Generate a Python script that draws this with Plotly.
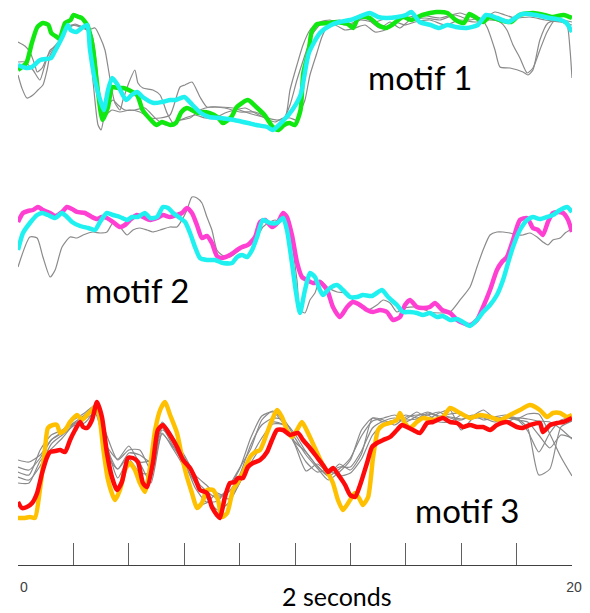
import plotly.graph_objects as go

# ---------------- data (time in samples, 100 Hz -> 200 samples = 2 s) ----------------
# motif 1
m1_green_t = [0,3,5,7,9,11,12,14,15,17,19,20,22,23,25,27,28.5,30.5,32.5,34,36,38,40,43,45,48,50,52,55,57,
              59,61,65,67,69,72,74,77,79,83,86,89,92,94,96,98,100,102,103,105,106,108,112,115,119,121,123,127,130,133,
              135,139,142,146,151,155,158,161,163,165,168,170,174,178,181,186,190,193,197,200]
m1_green_v = [70,77,97,113,117,115,107,103,101,117,120,125,123,122,115,93,57,20,33,53,52,52,50,45,30,20,15,18,15,17,
              28,32,27,28,27,23,17,23,33,40,33,25,13,10,15,17,15,30,67,90,108,116,117,118,116,112,123,122,115,112,
              115,123,120,125,128,127,120,117,126,123,118,123,120,118,125,127,125,123,125,122]
m1_cyan_t = [0,3,5,8,12,13,16,18,19,21,23,25,26,28,30,31,32.5,34,36,39,41,43,45,49,52,55,57,60,63,66,
             69,73,78,83,86,90,92,96,99,102,105,109,113,116,120,123,127,130,133,137,140,142,145,149,152,155,158,162,166,169,
             173,177,180,182,187,192,196,198,200]
m1_cyan_v = [75,72,73,80,82,87,103,115,110,108,112,115,90,57,37,30,50,62,55,40,45,48,43,37,38,40,40,43,35,27,
             23,22,20,17,15,13,10,20,30,45,87,107,115,118,120,123,127,123,122,123,125,128,118,115,112,115,113,112,115,125,
             122,118,123,126,125,122,120,117,108]
m1_gray_a_t = [0,2.5,4.3,6.1,6.9,8.7,10.5,12.6,15.2,17,19.5,22.4,25.3,27.8,29.6,31.4,32.5,33.9,35,36.8,
               37.9,40.4,42.2,43.3,45.1,48.7,51.3,53.8,56,58.5,62.1,65.7,69.3,72.9,77.6,82,85.6,89.9,93.5,96.4,
               98.2,100.7,102.9,105.4,109,112.6,118.1,121.7,125.3,130.7,134.3,137.9,141.5,146.9,152.3,157.8,163.2,166.8,169.3,172.2,
               174,177.6,182.3,184.1,185.9,188.4,191.3,195.7,200]
m1_gray_a_v = [98,94,88,75,68,72,83,92,100,113,115,113,110,112,103,90,73,50,37,30,
               40,60,70,57,52,50,45,27,17,20,22,30,33,33,32,28,25,22,20,22,
               50,75,95,110,118,120,115,118,122,112,118,112,120,122,120,125,120,122,113,90,
               73,72,68,65,70,100,117,120,118]
m1_gray_b_t = [0,1.4,3.2,5.4,7.2,9,10.5,11.6,13.4,15.9,17.7,20.6,23.1,24.9,26,27.4,28.9,30,31,32.5,
               34.3,36.1,38.6,42.2,45.8,49.5,53.1,56.7,60.3,63.9,67.5,71.1,74.7,78.3,82,85.6,89.2,92.8,95.7,98.2,
               100.4,101.8,103.6,105.4,107.9,109.7,111.6,114.4,118.1,121.7,125.3,128.9,132.5,136.1,139.7,143.3,148.7,154.2,159.6,165,
               170.4,174,176.5,178.7,181.2,183.8,185.9,188.4,191,193.9,196.4,198.2,199.3,200]
m1_gray_b_v = [65,52,42,45,50,55,70,85,93,103,112,116,113,110,90,50,15,10,22,35,
               40,35,30,30,32,22,15,18,22,25,22,22,27,30,32,27,22,18,22,22,
               20,28,40,65,87,103,113,115,110,112,115,108,110,118,115,118,120,115,120,118,
               120,118,110,95,82,67,72,90,108,120,118,115,90,62]
m1_gray_c_t = [0,2.5,5.4,7.9,9.7,11.6,14.4,17,20.6,24.2,26.7,28.5,29.6,31.4,33.9,36.8,40.4,44,47.7,51.3,
               54.9,58.5,60.3,62.8,65.7,68.2,71.1,74.7,80.1,85.6,89.2,92.8,95.7,98.2,100.7,103.6,106.1,109,112.6,116.2,
               119.9,123.5,128.9,134.3,139.7,145.1,152.3,159.6,166.8,172.2,175.8,179.4,184.8,190.3,195.7,200]
m1_gray_c_v = [78,78,70,60,75,90,95,110,115,112,105,70,40,25,30,28,30,28,22,22,
               25,53,55,58,43,33,33,32,28,28,23,13,20,35,60,85,105,115,118,120,
               115,120,118,123,122,125,122,127,120,128,125,122,123,120,118,115]

# motif 2
m2_magenta_t = [0,1.8,3.6,5.4,7.2,9,11.6,13.4,15.9,17.7,19.5,21.3,24.2,26.7,28.5,30.3,32.1,34.3,36.8,38.6,
                40.4,42.9,45.1,47.7,50.2,52.3,54.9,57.4,59.2,61,62.8,64.6,66.4,68.2,70,71.8,73.6,76.5,79.1,80.9,
                83,85.6,87.4,89.2,91.7,93.9,95.7,97.1,98.9,100.7,102.5,104.3,106.5,109,111.6,113.7,116.2,118.8,120.9,123.5,
                126,128.2,130.7,133.2,135.4,137.9,139.7,141.5,144,146.2,148.7,150.5,153.1,156,158.5,160.6,163.2,165.7,167.9,170.4,
                172.9,174.7,176.5,178.7,181.2,183.8,185.9,187.7,189.5,191.3,193.1,194.9,196.8,198.6,200]
m2_magenta_v = [113,122,124,125,128,125,122,119,123,128,126,123,122,118,116,118,117,113,108,110,
                115,120,118,115,117,120,118,120,122,127,122,110,97,99,92,79,77,80,85,88,
                90,98,113,115,108,113,122,118,100,73,58,55,52,53,45,28,18,28,33,30,
                25,23,25,23,15,18,30,35,28,27,28,32,25,22,15,12,10,15,28,45,
                65,73,78,95,115,117,107,105,100,113,122,123,122,115,103]
m2_cyan_t = [0,1.8,4.3,6.9,8.7,10.8,13.4,15.9,17.7,19.5,22.4,25.3,27.8,29.6,32.1,34.3,36.8,39.4,41.2,43.3,
             45.8,47.7,50.2,52.3,54.2,56,58.5,60.3,62.1,63.9,65.7,68.2,71.1,74,77.3,79.1,80.9,82.7,84.5,86.3,
             88.4,91,93.5,95.7,97.1,98.9,100.4,101.8,103.6,105.4,107.2,109,110.1,112.6,115.2,117.3,119.9,122.4,124.5,127.8,
             131.4,133.6,136.8,139,141.5,144,146.2,148.7,151.3,153.4,156,158.5,160.6,163.2,165.7,167.9,170.4,172.9,175.1,176.9,
             178.7,181.2,183.8,185.9,188.4,191,193.1,195.7,198.2,200]
m2_cyan_v = [85,102,112,120,122,120,117,122,118,113,109,107,105,113,122,120,118,115,118,118,
             122,117,118,128,127,122,117,113,102,88,77,75,75,72,72,78,80,78,85,98,
             115,112,112,117,105,72,42,22,45,62,58,45,40,47,50,45,38,38,40,39,
             45,38,30,23,23,22,20,22,18,19,15,16,13,9,15,23,30,40,55,72,
             88,105,115,118,116,118,120,125,128,123]
m2_gray_t = [0,4.3,6.9,9,11.6,13.4,15.9,18.8,21.3,23.5,27.1,29.6,32.1,34.3,36.8,39.4,41.5,44,46.6,48.7,
             51.3,54.9,57.4,59.2,61,62.8,64.6,66.4,68.2,70,71.8,73.6,76.5,79.1,81.2,83.8,86.3,88.4,91,92.8,
             94.6,96.4,98.2,100.7,101.8,103.6,105.4,107.2,109,111.6,115.2,118.8,120.9,123.5,126.4,129.6,131.8,134.3,136.8,139,
             144,148.7,152.3,156,159.6,163.2,165.7,167.9,170.4,172.9,175.1,177.6,180.1,182.3,184.8,187.4,189.5,191.3,193.1,195.7,
             197.5,199.3,200]
m2_gray_v = [68,98,97,78,58,65,88,98,97,100,103,102,103,112,108,100,105,107,105,103,
             105,108,108,115,125,138,137,132,118,105,85,80,78,83,88,92,98,108,113,115,
             113,117,102,55,25,22,35,42,55,48,43,42,35,28,25,30,35,32,23,27,
             28,23,22,23,35,48,68,85,100,103,103,102,100,100,102,98,93,90,95,97,
             102,105,106]

# motif 3
m3_red_t = [0,1.4,3.2,5.1,6.9,8.7,10.5,11.6,13.4,15.2,17,18.8,20.6,22.4,23.5,24.9,26.7,28.5,30.3,32.1,
            33.9,35.7,37.5,39.7,41.5,43.3,45.1,46.6,48.7,50.5,52.3,54.9,57.4,59.6,62.1,63.9,65.7,68.2,70,71.8,
            72.9,74.7,76.5,78.3,79.4,81.2,83,84.8,87.4,89.9,91.7,93.5,95.7,98.2,101.1,102.9,105.4,107.9,110.1,111.9,
            113.7,116.2,118.1,119.9,121.7,123.5,126,127.8,129.6,131.8,134.3,136.8,138.6,140.4,142.6,145.1,147.7,149.8,153.4,156,
            158.5,160.6,163.2,165.7,167.9,170.4,172.9,176.5,180.1,182.3,184.8,188.4,189.5,192.1,194.6,196.8,200]
m3_red_v = [28,22,23,27,37,57,73,78,79,80,78,90,100,108,103,102,110,128,113,77,
            53,40,48,72,72,68,47,43,67,100,105,95,83,70,62,52,40,37,23,15,
            12,33,47,48,52,52,63,67,70,78,90,100,100,95,97,90,82,73,65,58,
            62,53,45,35,33,45,67,83,87,90,93,100,105,103,100,97,107,108,112,108,
            107,103,105,103,103,100,105,108,103,102,105,107,98,105,107,108,112]
m3_orange_t = [0,2.5,4.3,6.1,7.9,9.7,10.8,12.6,14.1,15.2,17,18.8,21.3,23.1,24.9,26.7,28.5,29.6,30.7,32.5,
               35,36.8,38.6,40.4,42.2,44,45.8,47.7,49.5,51.3,53.1,54.9,57.4,59.2,61,62.8,64.6,66.4,68.2,70.4,
               72.2,73.6,75.5,77.6,79.4,81.2,83.8,85.6,87.4,89.9,91.7,93.5,95.3,97.1,98.9,100.7,102.5,104.7,107.2,109.7,
               111.9,113.7,115.5,117.3,119.9,121.7,123.5,124.5,126.4,128.2,130,131.8,134.3,136.8,137.9,139.7,141.5,144,146.2,149.8,
               153.4,156,159.6,163.2,166.8,170.4,174,177.6,181.2,184.8,188.4,191,193.1,195.7,198.2,200]
m3_orange_v = [12,12,13,12,40,80,102,105,105,97,100,108,115,110,115,120,125,110,83,50,
               30,40,60,67,60,47,38,63,100,120,128,115,97,73,53,37,22,27,40,40,
               30,13,17,40,48,57,73,78,80,97,110,120,113,100,93,100,108,97,82,67,
               57,47,30,20,30,37,30,25,33,73,100,105,107,110,117,107,102,108,112,110,
               113,122,117,112,115,113,110,115,120,125,120,113,117,117,113,115]
m3_gray_t = list(range(0, 201, 4))
m3_gray_a = [70,68,75,90,97,107,115,124,83,61,77,75,68,108,93,73,51,39,32,42,
             61,92,114,118,106,88,78,64,54,61,72,94,109,112,115,111,118,111,117,120,
             100,111,114,111,113,112,102,55,61,103,109]
m3_gray_b = [63,60,72,90,98,106,112,120,84,71,84,68,70,102,84,68,42,28,29,43,
             62,81,110,119,109,96,78,64,55,66,60,76,112,110,105,113,115,115,108,108,
             115,112,112,108,112,111,116,116,96,73,54]
m3_gray_c = [53,50,64,86,95,104,107,118,85,52,71,57,57,97,81,62,25,27,37,31,
             47,67,85,108,105,85,59,66,58,63,63,79,102,109,112,108,114,118,114,116,
             117,113,115,111,108,112,111,109,108,101,91]
m3_gray_d = [47,47,69,81,92,105,111,116,75,61,74,66,47,96,83,66,47,33,20,27,
             47,72,92,106,105,86,68,58,60,54,57,71,95,106,110,110,111,117,113,113,
             111,114,120,112,113,111,99,78,97,110,113]
m3_gray_e = [58,55,80,95,100,110,117,125,95,70,80,80,60,100,90,75,55,45,35,38,
             55,85,105,112,110,92,75,62,50,58,70,100,112,108,110,115,112,115,118,112,
             110,115,110,113,115,110,108,95,82,95,92]

tick_vals = list(range(0, 201, 20))
tick_text = ["0"] + [""] * 9 + ["200"]
labels = ["motif 1", "motif 2", "motif 3"]
x_title = "2 seconds"

# ---------------- styles ----------------
GRAY = "#8a8a8a"
GREEN = "#10e810"
CYAN = "#1ff0f0"
MAGENTA = "#ff3fd2"
ORANGE = "#ffc000"
RED = "#ff0a0a"
THICK = 4.5
THIN = 1.2

fig = go.Figure()

def add(t, v, color, width, yaxis):
    fig.add_trace(go.Scatter(x=t, y=v, mode="lines", yaxis=yaxis, xaxis="x",
                             line=dict(color=color, width=width, shape="spline", smoothing=0.6),
                             hoverinfo="skip", showlegend=False))

# motif 1
for t, v in [(m1_gray_a_t, m1_gray_a_v), (m1_gray_b_t, m1_gray_b_v), (m1_gray_c_t, m1_gray_c_v)]:
    add(t, v, GRAY, THIN, "y")
add(m1_green_t, m1_green_v, GREEN, THICK, "y")
add(m1_cyan_t, m1_cyan_v, CYAN, THICK, "y")
# motif 2
add(m2_gray_t, m2_gray_v, GRAY, THIN, "y2")
add(m2_magenta_t, m2_magenta_v, MAGENTA, THICK, "y2")
add(m2_cyan_t, m2_cyan_v, CYAN, THICK, "y2")
# motif 3
for g in [m3_gray_a, m3_gray_b, m3_gray_c, m3_gray_d, m3_gray_e]:
    add(m3_gray_t, g, GRAY, THIN, "y3")
add(m3_orange_t, m3_orange_v, ORANGE, THICK, "y3")
add(m3_red_t, m3_red_v, RED, THICK, "y3")

# the page body has an 8px default margin, so the figure is sized 8px smaller
hidden = dict(visible=False, fixedrange=True)
fig.update_layout(
    width=582, height=605,
    margin=dict(l=10, r=18, t=0, b=48),
    paper_bgcolor="white", plot_bgcolor="white",
    showlegend=False,
    xaxis=dict(range=[0, 200], anchor="free", position=0,
               tickmode="array", tickvals=tick_vals, ticktext=tick_text,
               ticks="inside", ticklen=22, tickwidth=1, tickcolor="#606060",
               showline=True, linecolor="#404040", linewidth=1.3,
               showgrid=False, zeroline=False,
               tickfont=dict(family="Liberation Sans, Arial", size=14, color="#404040"),
               ticklabelstandoff=9, ticklabelshift=6),
    yaxis=dict(domain=[0.76302, 1.0], range=[0, 132], **hidden),
    yaxis2=dict(domain=[0.41293, 0.68223], range=[0, 150], **hidden),
    yaxis3=dict(domain=[0.06284, 0.31418], range=[0, 140], **hidden),
)

lab_font = dict(family="Lato, Open Sans, sans-serif", size=33, color="black")
fig.add_annotation(x=145.3, y=63, xref="x", yref="y", text=labels[0], showarrow=False,
                   font=lab_font, xanchor="center", yanchor="middle")
fig.add_annotation(x=43.1, y=45, xref="x", yref="y2", text=labels[1], showarrow=False,
                   font=lab_font, xanchor="center", yanchor="middle")
fig.add_annotation(x=162, y=20, xref="x", yref="y3", text=labels[2], showarrow=False,
                   font=lab_font, xanchor="center", yanchor="middle")
fig.add_annotation(x=0.5767, y=-0.0557, xref="paper", yref="paper", text=x_title, showarrow=False,
                   font=dict(family="Lato, Open Sans, sans-serif", size=25, color="black"),
                   xanchor="center", yanchor="middle", borderpad=0)

fig.write_html("out.html")
